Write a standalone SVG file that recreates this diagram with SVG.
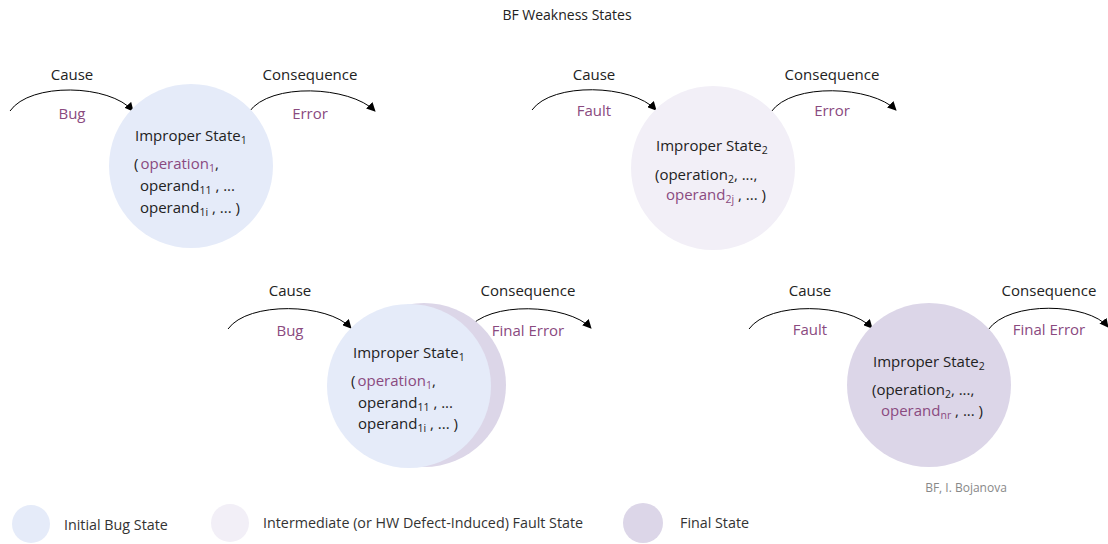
<svg xmlns="http://www.w3.org/2000/svg" width="1108" height="544" viewBox="0 0 1108 544">
<defs>
<marker id="ah" viewBox="0 0 10 10" refX="9" refY="5" markerWidth="9" markerHeight="9" markerUnits="userSpaceOnUse" orient="auto"><path d="M0,0 L10,5 L0,10 z" fill="#000"/></marker>
<style>
text{font-family:"Open Sans","Liberation Sans",sans-serif;fill:#222;}
.h{font-size:14px;}
.t{font-size:15px;}
.p{fill:#8a4a80;}
.sub{font-size:10.5px;}
.lg{font-size:14.3px;fill:#333;}
.arc{fill:none;stroke:#000;stroke-width:1;marker-end:url(#ah);}
.bug{fill:#e5ebf9;}
.fault{fill:#f2eff7;}
.fin{fill:#dcd6e8;}
</style>
</defs>
<rect width="1108" height="544" fill="#fff"/>
<text x="567" y="20" text-anchor="middle" class="h">BF Weakness States</text>

<g id="connectors">
<path class="arc" d="M10,111 C30,82 110,84 133,111"/>
<path class="arc" d="M249,112 C270,82 350,86 375,111"/>
<path class="arc" d="M532,110 C552,82 632,84 656,110"/>
<path class="arc" d="M771,112 C792,82 872,86 896,110"/>
<path class="arc" d="M228,329 C248,301 328,303 351,328"/>
<path class="arc" d="M467,330 C488,300 568,304 591,328"/>
<path class="arc" d="M749,329 C769,301 849,303 872,328"/>
<path class="arc" d="M988,330 C1009,300 1089,303 1108,327"/>
</g>

<g id="state1">
<circle class="bug" cx="191" cy="166" r="82"/>
<text x="72" y="80" text-anchor="middle" class="t">Cause</text>
<text x="72" y="119" text-anchor="middle" class="t p">Bug</text>
<text x="310" y="80" text-anchor="middle" class="t">Consequence</text>
<text x="310" y="119" text-anchor="middle" class="t p">Error</text>
<text x="135" y="141" class="t">Improper State<tspan class="sub" dy="3">1</tspan></text>
<text x="134" y="169" class="t">(<tspan class="p" dx="2">operation</tspan><tspan class="sub p" dy="3">1</tspan><tspan dy="-3">,</tspan></text>
<text x="140" y="191" class="t">operand<tspan class="sub" dy="3">11</tspan><tspan dy="-3"> , ...</tspan></text>
<text x="140" y="213" class="t">operand<tspan class="sub" dy="3">1i</tspan><tspan dy="-3"> , ... )</tspan></text>
</g>

<g id="state2">
<circle class="fault" cx="713" cy="168" r="82"/>
<text x="594" y="80" text-anchor="middle" class="t">Cause</text>
<text x="594" y="116" text-anchor="middle" class="t p">Fault</text>
<text x="832" y="80" text-anchor="middle" class="t">Consequence</text>
<text x="832" y="116" text-anchor="middle" class="t p">Error</text>
<text x="656" y="151" class="t">Improper State<tspan class="sub" dy="3">2</tspan></text>
<text x="655" y="180" class="t">(operation<tspan class="sub" dy="3">2</tspan><tspan dy="-3">, ...,</tspan></text>
<text x="666" y="200" class="t"><tspan class="p">operand</tspan><tspan class="sub p" dy="3">2j</tspan><tspan dy="-3"> , ... )</tspan></text>
</g>

<g id="state3">
<circle class="fin" cx="424" cy="385" r="82"/>
<circle class="bug" cx="409" cy="386" r="82"/>
<text x="290" y="296" text-anchor="middle" class="t">Cause</text>
<text x="290" y="336" text-anchor="middle" class="t p">Bug</text>
<text x="528" y="296" text-anchor="middle" class="t">Consequence</text>
<text x="528" y="336" text-anchor="middle" class="t p">Final Error</text>
<text x="353" y="358" class="t">Improper State<tspan class="sub" dy="3">1</tspan></text>
<text x="351" y="386" class="t">(<tspan class="p" dx="2">operation</tspan><tspan class="sub p" dy="3">1</tspan><tspan dy="-3">,</tspan></text>
<text x="358" y="408" class="t">operand<tspan class="sub" dy="3">11</tspan><tspan dy="-3"> , ...</tspan></text>
<text x="358" y="429" class="t">operand<tspan class="sub" dy="3">1i</tspan><tspan dy="-3"> , ... )</tspan></text>
</g>

<g id="state4">
<circle class="fin" cx="929" cy="385" r="82"/>
<text x="810" y="296" text-anchor="middle" class="t">Cause</text>
<text x="810" y="335" text-anchor="middle" class="t p">Fault</text>
<text x="1049" y="296" text-anchor="middle" class="t">Consequence</text>
<text x="1049" y="335" text-anchor="middle" class="t p">Final Error</text>
<text x="873" y="367" class="t">Improper State<tspan class="sub" dy="3">2</tspan></text>
<text x="872" y="395" class="t">(operation<tspan class="sub" dy="3">2</tspan><tspan dy="-3">, ...,</tspan></text>
<text x="881" y="416" class="t"><tspan class="p">operand</tspan><tspan class="sub p" dy="3">nr</tspan><tspan dy="-3"> , ... )</tspan></text>
</g>

<text x="966" y="492" text-anchor="middle" style="font-size:12px;fill:#888">BF, I. Bojanova</text>

<g id="legend">
<circle class="bug" cx="31" cy="524" r="19"/>
<text x="64" y="530" class="lg">Initial Bug State</text>
<circle class="fault" cx="230" cy="523" r="19"/>
<text x="263" y="528" class="lg">Intermediate (or HW Defect-Induced) Fault State</text>
<circle class="fin" cx="643" cy="523" r="20"/>
<text x="680" y="528" class="lg">Final State</text>
</g>
</svg>
